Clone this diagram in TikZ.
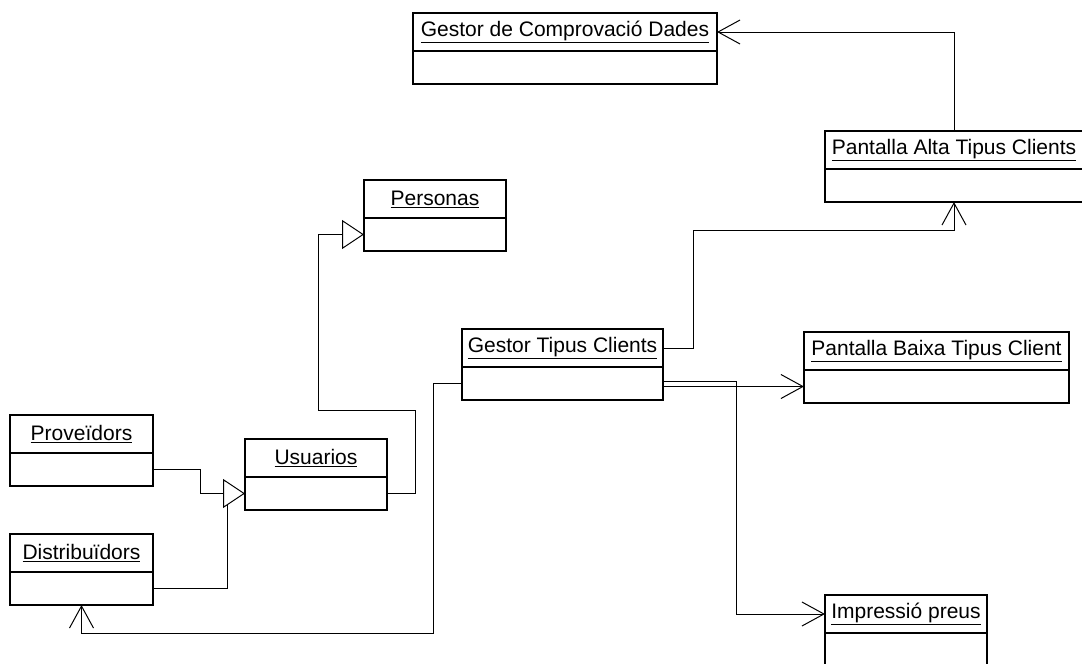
\documentclass[tikz,border=0pt]{standalone}
\usepackage{fontspec}
\setmainfont{Liberation Sans}
\usetikzlibrary{positioning, arrows.meta}

\tikzset{
    classname/.style = {draw, line width = 1.4pt, anchor = north west, inner sep = 0pt, outer sep = 0pt,
        minimum height = 38pt, font = \fontsize{21}{25}\selectfont},
    classbody/.style = {draw, line width = 1.4pt, inner sep = 0pt, outer sep = 0pt, minimum height = 33pt},
    assoc/.style = {line width = 1pt, -{Straight Barb[length = 22pt, width = 24pt]}},
    herencia/.style = {line width = 1pt, -{Triangle[open, length = 22pt, width = 29pt, fill = white]}}
}

\begin{document}
\begin{tikzpicture}[x = 1pt, y = -1pt]
                \useasboundingbox (0,0) rectangle (1082,664);

                \node[classname, minimum width = 304pt] (gcd) at (413,13) {\underline{Gestor de Comprovació Dades}};
                \node[classbody, minimum width = 304pt, below = 0pt of gcd] (gcdB) {};

                \node[classname, minimum width = 258pt] (alta) at (825,131) {\underline{Pantalla Alta Tipus Clients}};
                \node[classbody, minimum width = 258pt, below = 0pt of alta] (altaB) {};

                \node[classname, minimum width = 142pt] (personas) at (364,180) {\underline{Personas}};
                \node[classbody, minimum width = 142pt, below = 0pt of personas] (personasB) {};

                \node[classname, minimum width = 201pt] (gestor) at (462,329) {\underline{Gestor Tipus Clients}};
                \node[classbody, minimum width = 201pt, below = 0pt of gestor] (gestorB) {};

                \node[classname, minimum width = 265pt] (baixa) at (804,332) {\underline{Pantalla Baixa Tipus Client}};
                \node[classbody, minimum width = 265pt, below = 0pt of baixa] (baixaB) {};

                \node[classname, minimum width = 143pt] (proveidors) at (10,415) {\underline{Proveïdors}};
                \node[classbody, minimum width = 143pt, below = 0pt of proveidors] (proveidorsB) {};

                \node[classname, minimum width = 142pt] (usuarios) at (245,439) {\underline{Usuarios}};
                \node[classbody, minimum width = 142pt, below = 0pt of usuarios] (usuariosB) {};

                \node[classname, minimum width = 143pt] (distribuidors) at (10,534) {\underline{Distribuïdors}};
                \node[classbody, minimum width = 143pt, below = 0pt of distribuidors] (distribuidorsB) {};

                \node[classname, minimum width = 162pt] (impressio) at (825,595) {\underline{Impressió preus}};
                \node[classbody, minimum width = 162pt, below = 0pt of impressio] (impressioB) {};

                \draw[assoc] (alta.north) |- (gcd.east);
                \draw[assoc] (gestor.east) -- ++(30,0) |- ([yshift = -28pt]altaB.south) -- (altaB.south);
                \draw[assoc] (gestorB.east |- baixaB.west) -- (baixaB.west);
                \draw[assoc] ([yshift = 2pt]gestorB.east) -- ++(73,0) |- (impressio.west);
                \draw[assoc] (gestorB.west) -- ++(-29,0) |- ([yshift = -28pt]distribuidorsB.south) -- (distribuidorsB.south);

                \draw[line width = 1pt] (distribuidorsB.east) -| ([xshift = -18pt, yshift = -11pt]usuariosB.west);
                \draw[herencia] (proveidorsB.east) -- ++(47,0) |- (usuariosB.west);
                \draw[herencia] (usuariosB.east) -- ++(28,0) -- ++(0,-83) -| ([xshift = -46pt]personasB.west) -- (personasB.west);

            \end{tikzpicture}
\end{document}
